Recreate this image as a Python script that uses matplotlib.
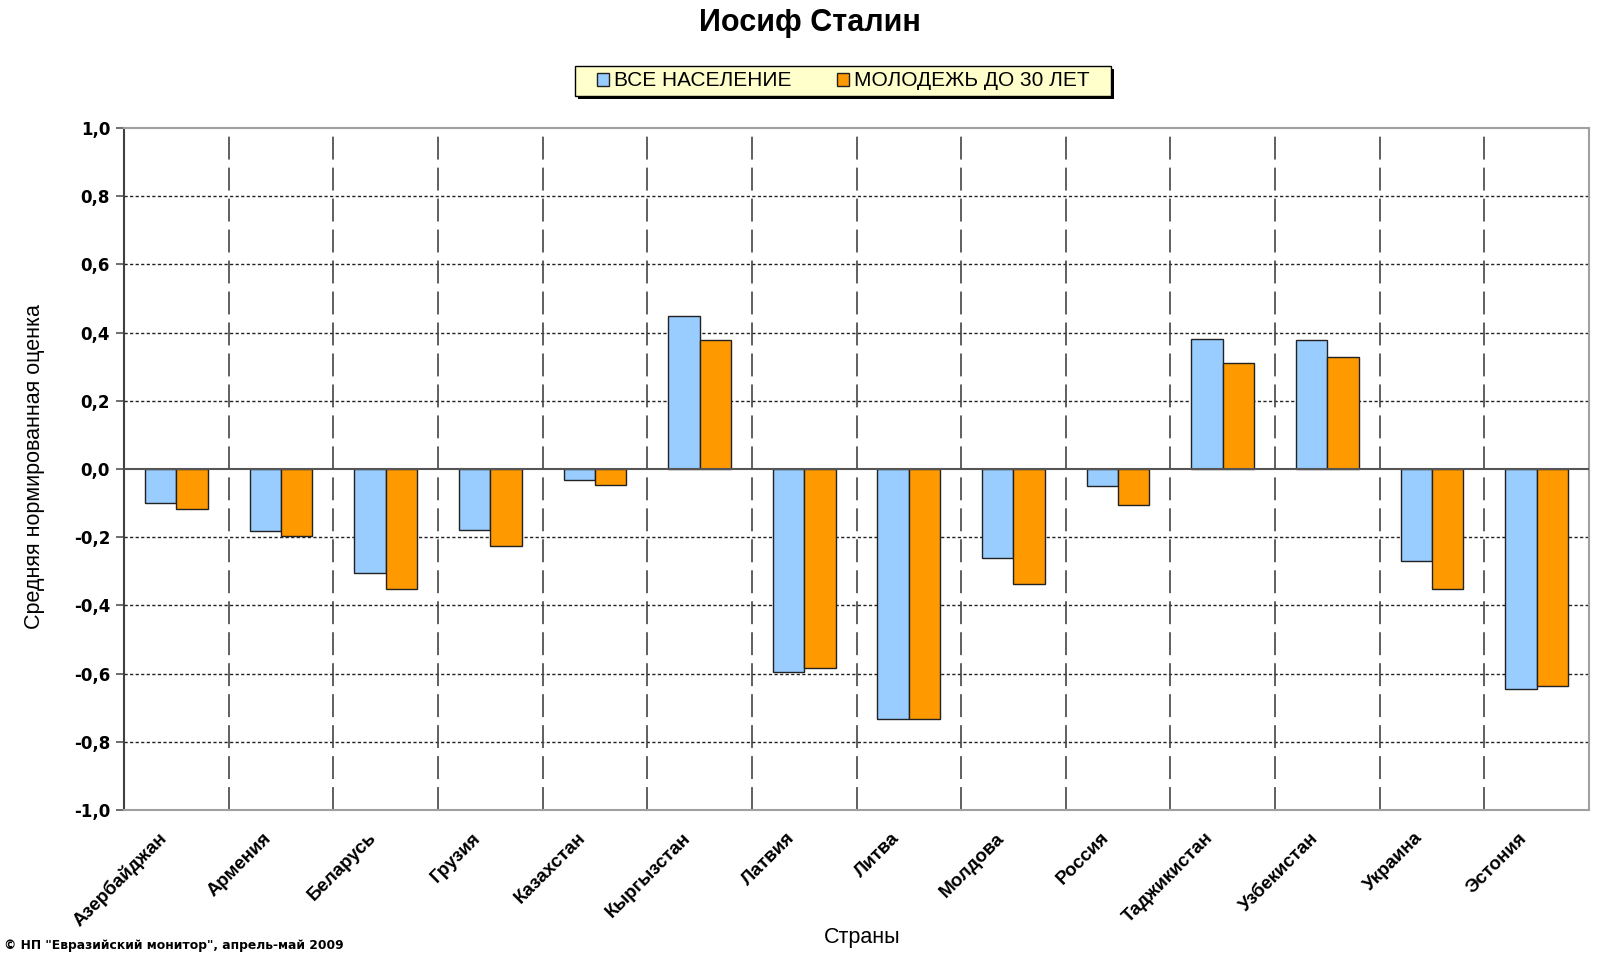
import matplotlib
matplotlib.use("Agg")
import matplotlib.pyplot as plt
import numpy as np
import matplotlib.transforms as mtransforms
from matplotlib.ticker import FuncFormatter, FixedLocator
from matplotlib.patches import Patch, Rectangle

plt.rcParams['font.family'] = ['Liberation Sans', 'DejaVu Sans']
plt.rcParams['lines.scale_dashes'] = False

countries = ["Азербайджан", "Армения", "Беларусь", "Грузия", "Казахстан",
             "Кыргызстан", "Латвия", "Литва", "Молдова", "Россия",
             "Таджикистан", "Узбекистан", "Украина", "Эстония"]
all_pop = [-0.099, -0.182, -0.304, -0.178, -0.031, 0.449, -0.596, -0.733,
           -0.262, -0.050, 0.381, 0.377, -0.270, -0.644]
youth = [-0.117, -0.197, -0.352, -0.227, -0.046, 0.377, -0.584, -0.733,
         -0.338, -0.107, 0.310, 0.327, -0.353, -0.637]
series_names = ["ВСЕ НАСЕЛЕНИЕ", "МОЛОДЕЖЬ ДО 30 ЛЕТ"]
colors = ["#99CCFF", "#FF9900"]
yticks = [-1.0, -0.8, -0.6, -0.4, -0.2, 0.0, 0.2, 0.4, 0.6, 0.8, 1.0]

W, H = 1618, 963
fig = plt.figure(figsize=(W / 100, H / 100), dpi=100)
L, R, T, B = 124, 1589, 128, 810
ax = fig.add_axes([L / W, 1 - B / H, (R - L) / W, (B - T) / H])

x = np.arange(len(countries))
bw = 0.3
ax.bar(x - bw / 2, all_pop, bw, color=colors[0], edgecolor="#222222", linewidth=1.0, zorder=3)
ax.bar(x + bw / 2, youth, bw, color=colors[1], edgecolor="#222222", linewidth=1.0, zorder=3)

ax.set_xlim(-0.5, len(countries) - 0.5)
ax.set_ylim(-1.0, 1.0)

# horizontal dotted grid
for v in yticks:
    if v not in (-1.0, 0.0, 1.0):
        ax.axhline(v, color="#222222", lw=1.0, ls=(0, (2.3, 1.7)), zorder=1)
# vertical dashed grid at category boundaries
for b in np.arange(0.5, len(countries) - 0.5, 1.0):
    ax.axvline(b, color="#444444", lw=1.2, ls=(0, (16.5, 5.8)), zorder=1)
ax.axhline(0, color="#555555", lw=1.5, zorder=4)

ax.yaxis.set_major_locator(FixedLocator(yticks))
ax.yaxis.set_major_formatter(FuncFormatter(lambda v, p: f"{v:.1f}".replace(".", ",")))
ax.tick_params(axis="y", direction="out", length=6, width=1.2, color="#555555",
               labelsize=12, pad=4)
for lab in ax.get_yticklabels():
    lab.set_fontweight("bold")
    lab.set_family(["DejaVu Sans"])

ax.set_xticks(x)
ax.set_xticklabels(countries, rotation=45, ha="right", va="top",
                   rotation_mode="anchor", fontsize=13.5, fontweight="bold")
ax.tick_params(axis="x", length=0, pad=14)
offset = mtransforms.ScaledTranslation(-18 / 100, 0, fig.dpi_scale_trans)
for lab in ax.get_xticklabels():
    lab.set_transform(lab.get_transform() + offset)

for s in ["top", "right", "bottom"]:
    ax.spines[s].set_color("#A0A0A0")
    ax.spines[s].set_linewidth(1.5)
ax.spines["left"].set_color("#404040")
ax.spines["left"].set_linewidth(1.5)

fig.text(35 / W, 1 - 467 / H, "Средняя нормированная оценка", rotation=90,
         ha="center", va="center", fontsize=15.5)
fig.text(862 / W, 1 - 937 / H, "Страны", ha="center", va="center", fontsize=15.5)
fig.text(810 / W, 1 - 23 / H, "Иосиф Сталин", ha="center", va="center",
         fontsize=22, fontweight="bold")
fig.text(4 / W, 1 - 945 / H, "© НП \"Евразийский монитор\", апрель-май 2009",
         ha="left", va="center", fontsize=8.9, fontweight="bold",
         family=["DejaVu Sans"])

# legend box with shadow
bx0, bx1, by0, by1 = 575, 1111, 66, 96
fig.patches.append(Rectangle(((bx0 + 3) / W, 1 - (by1 + 3) / H), (bx1 - bx0) / W, (by1 - by0) / H,
                             transform=fig.transFigure, facecolor="black", edgecolor="none", zorder=1))
fig.patches.append(Rectangle((bx0 / W, 1 - by1 / H), (bx1 - bx0) / W, (by1 - by0) / H,
                             transform=fig.transFigure, facecolor="#FFFFCC", edgecolor="black",
                             linewidth=1.0, zorder=2))
handles = [Patch(facecolor=colors[0], edgecolor="#222222", lw=1.0),
           Patch(facecolor=colors[1], edgecolor="#222222", lw=1.0)]
leg = fig.legend(handles, series_names, loc="center",
                 bbox_to_anchor=((bx0 + bx1) / 2 / W, 1 - (by0 + by1) / 2 / H),
                 ncol=2, fontsize=15, frameon=False,
                 handlelength=0.6, handleheight=0.6, handletextpad=0.2,
                 columnspacing=2.2, borderpad=0.0, borderaxespad=0)
leg.set_zorder(3)

fig.savefig("out.png", dpi=100)
